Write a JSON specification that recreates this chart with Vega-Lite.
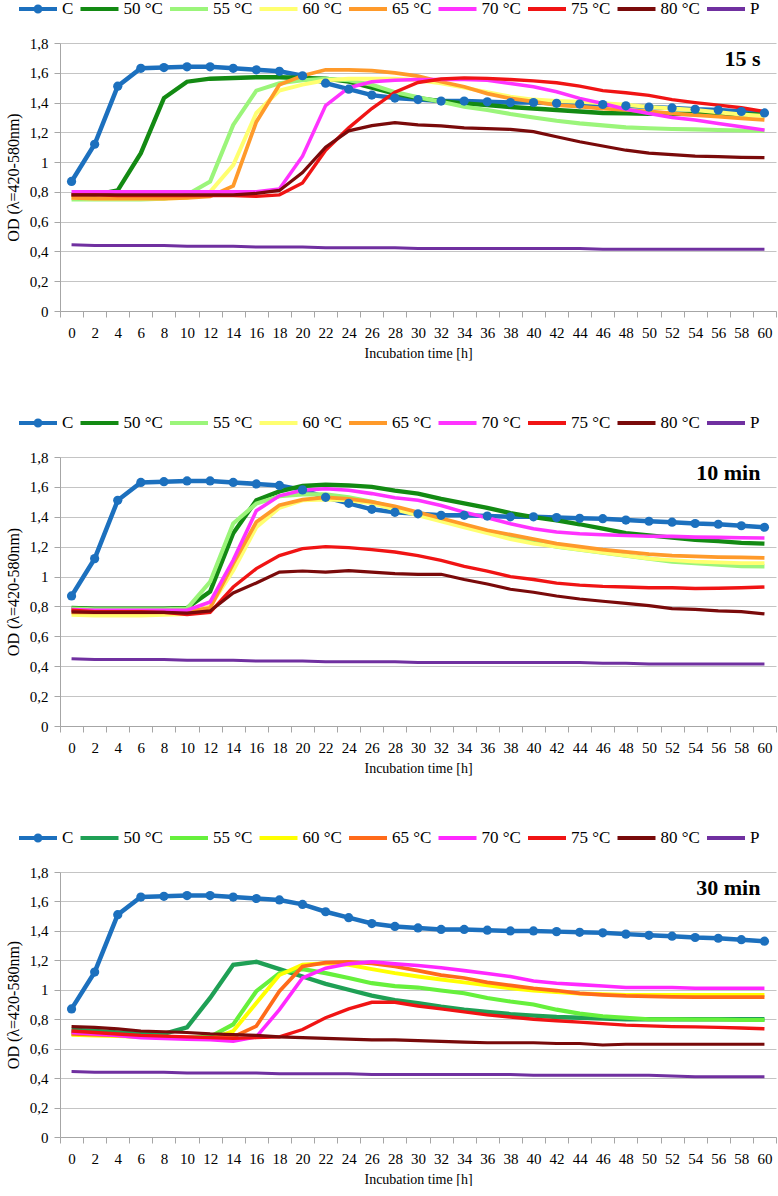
{
"$schema": "https://vega.github.io/schema/vega-lite/v6.json",
"padding": {"left": 5, "top": 0, "right": 0, "bottom": 0},
"spacing": 54,
"datasets": {"d": [
{"panel":"15 s","t":0,"C":0.87,"50 °C":0.78,"55 °C":0.75,"60 °C":0.76,"65 °C":0.76,"70 °C":0.80,"75 °C":0.78,"80 °C":0.78,"P":0.445},
{"panel":"15 s","t":2,"C":1.12,"50 °C":0.78,"55 °C":0.75,"60 °C":0.755,"65 °C":0.755,"70 °C":0.80,"75 °C":0.78,"80 °C":0.78,"P":0.44},
{"panel":"15 s","t":4,"C":1.51,"50 °C":0.81,"55 °C":0.75,"60 °C":0.755,"65 °C":0.755,"70 °C":0.80,"75 °C":0.775,"80 °C":0.78,"P":0.44},
{"panel":"15 s","t":6,"C":1.63,"50 °C":1.06,"55 °C":0.75,"60 °C":0.755,"65 °C":0.755,"70 °C":0.80,"75 °C":0.775,"80 °C":0.78,"P":0.44},
{"panel":"15 s","t":8,"C":1.635,"50 °C":1.43,"55 °C":0.755,"60 °C":0.755,"65 °C":0.755,"70 °C":0.80,"75 °C":0.775,"80 °C":0.78,"P":0.44},
{"panel":"15 s","t":10,"C":1.64,"50 °C":1.54,"55 °C":0.78,"60 °C":0.76,"65 °C":0.76,"70 °C":0.80,"75 °C":0.775,"80 °C":0.78,"P":0.435},
{"panel":"15 s","t":12,"C":1.64,"50 °C":1.56,"55 °C":0.87,"60 °C":0.80,"65 °C":0.77,"70 °C":0.80,"75 °C":0.775,"80 °C":0.78,"P":0.435},
{"panel":"15 s","t":14,"C":1.63,"50 °C":1.565,"55 °C":1.25,"60 °C":0.98,"65 °C":0.84,"70 °C":0.80,"75 °C":0.775,"80 °C":0.78,"P":0.435},
{"panel":"15 s","t":16,"C":1.62,"50 °C":1.57,"55 °C":1.48,"60 °C":1.33,"65 °C":1.27,"70 °C":0.80,"75 °C":0.77,"80 °C":0.79,"P":0.43},
{"panel":"15 s","t":18,"C":1.61,"50 °C":1.57,"55 °C":1.53,"60 °C":1.48,"65 °C":1.52,"70 °C":0.82,"75 °C":0.78,"80 °C":0.81,"P":0.43},
{"panel":"15 s","t":20,"C":1.58,"50 °C":1.565,"55 °C":1.55,"60 °C":1.52,"65 °C":1.58,"70 °C":1.04,"75 °C":0.86,"80 °C":0.93,"P":0.43},
{"panel":"15 s","t":22,"C":1.53,"50 °C":1.56,"55 °C":1.56,"60 °C":1.55,"65 °C":1.62,"70 °C":1.38,"75 °C":1.08,"80 °C":1.10,"P":0.425},
{"panel":"15 s","t":24,"C":1.49,"50 °C":1.54,"55 °C":1.55,"60 °C":1.56,"65 °C":1.62,"70 °C":1.50,"75 °C":1.23,"80 °C":1.21,"P":0.425},
{"panel":"15 s","t":26,"C":1.45,"50 °C":1.50,"55 °C":1.52,"60 °C":1.56,"65 °C":1.615,"70 °C":1.54,"75 °C":1.36,"80 °C":1.245,"P":0.425},
{"panel":"15 s","t":28,"C":1.43,"50 °C":1.46,"55 °C":1.47,"60 °C":1.56,"65 °C":1.60,"70 °C":1.55,"75 °C":1.47,"80 °C":1.265,"P":0.425},
{"panel":"15 s","t":30,"C":1.42,"50 °C":1.43,"55 °C":1.435,"60 °C":1.55,"65 °C":1.578,"70 °C":1.555,"75 °C":1.535,"80 °C":1.25,"P":0.42},
{"panel":"15 s","t":32,"C":1.41,"50 °C":1.41,"55 °C":1.406,"60 °C":1.53,"65 °C":1.54,"70 °C":1.555,"75 °C":1.558,"80 °C":1.243,"P":0.42},
{"panel":"15 s","t":34,"C":1.41,"50 °C":1.395,"55 °C":1.372,"60 °C":1.50,"65 °C":1.506,"70 °C":1.555,"75 °C":1.566,"80 °C":1.23,"P":0.42},
{"panel":"15 s","t":36,"C":1.405,"50 °C":1.383,"55 °C":1.35,"60 °C":1.47,"65 °C":1.46,"70 °C":1.55,"75 °C":1.562,"80 °C":1.225,"P":0.42},
{"panel":"15 s","t":38,"C":1.40,"50 °C":1.37,"55 °C":1.323,"60 °C":1.44,"65 °C":1.428,"70 °C":1.528,"75 °C":1.555,"80 °C":1.22,"P":0.42},
{"panel":"15 s","t":40,"C":1.40,"50 °C":1.36,"55 °C":1.30,"60 °C":1.42,"65 °C":1.406,"70 °C":1.506,"75 °C":1.546,"80 °C":1.205,"P":0.42},
{"panel":"15 s","t":42,"C":1.395,"50 °C":1.35,"55 °C":1.278,"60 °C":1.41,"65 °C":1.383,"70 °C":1.473,"75 °C":1.533,"80 °C":1.17,"P":0.42},
{"panel":"15 s","t":44,"C":1.39,"50 °C":1.34,"55 °C":1.26,"60 °C":1.405,"65 °C":1.372,"70 °C":1.428,"75 °C":1.51,"80 °C":1.137,"P":0.42},
{"panel":"15 s","t":46,"C":1.387,"50 °C":1.33,"55 °C":1.247,"60 °C":1.395,"65 °C":1.36,"70 °C":1.394,"75 °C":1.48,"80 °C":1.108,"P":0.415},
{"panel":"15 s","t":48,"C":1.378,"50 °C":1.327,"55 °C":1.233,"60 °C":1.385,"65 °C":1.35,"70 °C":1.355,"75 °C":1.466,"80 °C":1.08,"P":0.415},
{"panel":"15 s","t":50,"C":1.37,"50 °C":1.325,"55 °C":1.227,"60 °C":1.37,"65 °C":1.34,"70 °C":1.327,"75 °C":1.448,"80 °C":1.06,"P":0.415},
{"panel":"15 s","t":52,"C":1.364,"50 °C":1.325,"55 °C":1.222,"60 °C":1.36,"65 °C":1.327,"70 °C":1.30,"75 °C":1.42,"80 °C":1.05,"P":0.415},
{"panel":"15 s","t":54,"C":1.355,"50 °C":1.323,"55 °C":1.22,"60 °C":1.35,"65 °C":1.316,"70 °C":1.283,"75 °C":1.40,"80 °C":1.04,"P":0.415},
{"panel":"15 s","t":56,"C":1.35,"50 °C":1.32,"55 °C":1.216,"60 °C":1.335,"65 °C":1.305,"70 °C":1.26,"75 °C":1.383,"80 °C":1.037,"P":0.415},
{"panel":"15 s","t":58,"C":1.34,"50 °C":1.32,"55 °C":1.212,"60 °C":1.32,"65 °C":1.294,"70 °C":1.238,"75 °C":1.365,"80 °C":1.032,"P":0.415},
{"panel":"15 s","t":60,"C":1.33,"50 °C":1.32,"55 °C":1.21,"60 °C":1.31,"65 °C":1.283,"70 °C":1.215,"75 °C":1.34,"80 °C":1.03,"P":0.415},
{"panel":"10 min","t":0,"C":0.87,"50 °C":0.79,"55 °C":0.785,"60 °C":0.745,"65 °C":0.76,"70 °C":0.78,"75 °C":0.775,"80 °C":0.764,"P":0.45},
{"panel":"10 min","t":2,"C":1.12,"50 °C":0.785,"55 °C":0.78,"60 °C":0.74,"65 °C":0.76,"70 °C":0.775,"75 °C":0.765,"80 °C":0.76,"P":0.445},
{"panel":"10 min","t":4,"C":1.51,"50 °C":0.785,"55 °C":0.78,"60 °C":0.74,"65 °C":0.76,"70 °C":0.775,"75 °C":0.765,"80 °C":0.76,"P":0.445},
{"panel":"10 min","t":6,"C":1.63,"50 °C":0.785,"55 °C":0.78,"60 °C":0.74,"65 °C":0.76,"70 °C":0.775,"75 °C":0.765,"80 °C":0.76,"P":0.445},
{"panel":"10 min","t":8,"C":1.635,"50 °C":0.785,"55 °C":0.78,"60 °C":0.745,"65 °C":0.76,"70 °C":0.775,"75 °C":0.76,"80 °C":0.76,"P":0.445},
{"panel":"10 min","t":10,"C":1.64,"50 °C":0.79,"55 °C":0.785,"60 °C":0.75,"65 °C":0.765,"70 °C":0.775,"75 °C":0.746,"80 °C":0.755,"P":0.44},
{"panel":"10 min","t":12,"C":1.64,"50 °C":0.90,"55 °C":0.965,"60 °C":0.80,"65 °C":0.79,"70 °C":0.83,"75 °C":0.76,"80 °C":0.77,"P":0.44},
{"panel":"10 min","t":14,"C":1.63,"50 °C":1.29,"55 °C":1.355,"60 °C":1.04,"65 °C":1.087,"70 °C":1.11,"75 °C":0.93,"80 °C":0.89,"P":0.44},
{"panel":"10 min","t":16,"C":1.62,"50 °C":1.51,"55 °C":1.488,"60 °C":1.33,"65 °C":1.365,"70 °C":1.44,"75 °C":1.053,"80 °C":0.957,"P":0.435},
{"panel":"10 min","t":18,"C":1.61,"50 °C":1.57,"55 °C":1.537,"60 °C":1.46,"65 °C":1.477,"70 °C":1.54,"75 °C":1.14,"80 °C":1.03,"P":0.435},
{"panel":"10 min","t":20,"C":1.58,"50 °C":1.606,"55 °C":1.55,"60 °C":1.51,"65 °C":1.515,"70 °C":1.577,"75 °C":1.187,"80 °C":1.037,"P":0.435},
{"panel":"10 min","t":22,"C":1.53,"50 °C":1.615,"55 °C":1.55,"60 °C":1.515,"65 °C":1.53,"70 °C":1.588,"75 °C":1.20,"80 °C":1.03,"P":0.43},
{"panel":"10 min","t":24,"C":1.49,"50 °C":1.61,"55 °C":1.53,"60 °C":1.51,"65 °C":1.52,"70 °C":1.577,"75 °C":1.194,"80 °C":1.04,"P":0.43},
{"panel":"10 min","t":26,"C":1.45,"50 °C":1.60,"55 °C":1.50,"60 °C":1.49,"65 °C":1.50,"70 °C":1.555,"75 °C":1.18,"80 °C":1.03,"P":0.43},
{"panel":"10 min","t":28,"C":1.43,"50 °C":1.575,"55 °C":1.46,"60 °C":1.45,"65 °C":1.47,"70 °C":1.528,"75 °C":1.164,"80 °C":1.02,"P":0.43},
{"panel":"10 min","t":30,"C":1.42,"50 °C":1.555,"55 °C":1.42,"60 °C":1.41,"65 °C":1.43,"70 °C":1.51,"75 °C":1.14,"80 °C":1.015,"P":0.425},
{"panel":"10 min","t":32,"C":1.41,"50 °C":1.52,"55 °C":1.38,"60 °C":1.37,"65 °C":1.39,"70 °C":1.476,"75 °C":1.108,"80 °C":1.015,"P":0.425},
{"panel":"10 min","t":34,"C":1.41,"50 °C":1.49,"55 °C":1.34,"60 °C":1.33,"65 °C":1.35,"70 °C":1.43,"75 °C":1.068,"80 °C":0.98,"P":0.425},
{"panel":"10 min","t":36,"C":1.405,"50 °C":1.46,"55 °C":1.30,"60 °C":1.29,"65 °C":1.31,"70 °C":1.394,"75 °C":1.037,"80 °C":0.95,"P":0.425},
{"panel":"10 min","t":38,"C":1.40,"50 °C":1.425,"55 °C":1.26,"60 °C":1.25,"65 °C":1.28,"70 °C":1.354,"75 °C":1.00,"80 °C":0.915,"P":0.425},
{"panel":"10 min","t":40,"C":1.40,"50 °C":1.398,"55 °C":1.23,"60 °C":1.22,"65 °C":1.25,"70 °C":1.32,"75 °C":0.98,"80 °C":0.895,"P":0.425},
{"panel":"10 min","t":42,"C":1.395,"50 °C":1.376,"55 °C":1.20,"60 °C":1.20,"65 °C":1.22,"70 °C":1.298,"75 °C":0.956,"80 °C":0.87,"P":0.425},
{"panel":"10 min","t":44,"C":1.39,"50 °C":1.35,"55 °C":1.18,"60 °C":1.18,"65 °C":1.20,"70 °C":1.287,"75 °C":0.943,"80 °C":0.85,"P":0.425},
{"panel":"10 min","t":46,"C":1.387,"50 °C":1.32,"55 °C":1.16,"60 °C":1.16,"65 °C":1.18,"70 °C":1.28,"75 °C":0.934,"80 °C":0.835,"P":0.42},
{"panel":"10 min","t":48,"C":1.378,"50 °C":1.29,"55 °C":1.14,"60 °C":1.14,"65 °C":1.165,"70 °C":1.275,"75 °C":0.93,"80 °C":0.82,"P":0.42},
{"panel":"10 min","t":50,"C":1.37,"50 °C":1.275,"55 °C":1.12,"60 °C":1.12,"65 °C":1.15,"70 °C":1.27,"75 °C":0.925,"80 °C":0.805,"P":0.415},
{"panel":"10 min","t":52,"C":1.364,"50 °C":1.26,"55 °C":1.10,"60 °C":1.11,"65 °C":1.14,"70 °C":1.269,"75 °C":0.925,"80 °C":0.785,"P":0.415},
{"panel":"10 min","t":54,"C":1.355,"50 °C":1.246,"55 °C":1.09,"60 °C":1.10,"65 °C":1.135,"70 °C":1.264,"75 °C":0.92,"80 °C":0.78,"P":0.415},
{"panel":"10 min","t":56,"C":1.35,"50 °C":1.237,"55 °C":1.08,"60 °C":1.095,"65 °C":1.13,"70 °C":1.262,"75 °C":0.922,"80 °C":0.77,"P":0.415},
{"panel":"10 min","t":58,"C":1.34,"50 °C":1.226,"55 °C":1.07,"60 °C":1.09,"65 °C":1.128,"70 °C":1.26,"75 °C":0.925,"80 °C":0.765,"P":0.415},
{"panel":"10 min","t":60,"C":1.33,"50 °C":1.22,"55 °C":1.068,"60 °C":1.09,"65 °C":1.125,"70 °C":1.258,"75 °C":0.93,"80 °C":0.75,"P":0.415},
{"panel":"30 min","t":0,"C":0.87,"50 °C":0.73,"55 °C":0.70,"60 °C":0.695,"65 °C":0.70,"70 °C":0.71,"75 °C":0.72,"80 °C":0.75,"P":0.445},
{"panel":"30 min","t":2,"C":1.12,"50 °C":0.72,"55 °C":0.70,"60 °C":0.69,"65 °C":0.695,"70 °C":0.70,"75 °C":0.71,"80 °C":0.745,"P":0.44},
{"panel":"30 min","t":4,"C":1.51,"50 °C":0.71,"55 °C":0.69,"60 °C":0.685,"65 °C":0.69,"70 °C":0.69,"75 °C":0.70,"80 °C":0.735,"P":0.44},
{"panel":"30 min","t":6,"C":1.63,"50 °C":0.70,"55 °C":0.68,"60 °C":0.68,"65 °C":0.685,"70 °C":0.675,"75 °C":0.69,"80 °C":0.72,"P":0.44},
{"panel":"30 min","t":8,"C":1.635,"50 °C":0.70,"55 °C":0.68,"60 °C":0.675,"65 °C":0.68,"70 °C":0.67,"75 °C":0.685,"80 °C":0.715,"P":0.44},
{"panel":"30 min","t":10,"C":1.64,"50 °C":0.745,"55 °C":0.675,"60 °C":0.67,"65 °C":0.675,"70 °C":0.665,"75 °C":0.68,"80 °C":0.71,"P":0.435},
{"panel":"30 min","t":12,"C":1.64,"50 °C":0.945,"55 °C":0.68,"60 °C":0.665,"65 °C":0.67,"70 °C":0.66,"75 °C":0.675,"80 °C":0.70,"P":0.435},
{"panel":"30 min","t":14,"C":1.63,"50 °C":1.17,"55 °C":0.765,"60 °C":0.72,"65 °C":0.68,"70 °C":0.65,"75 °C":0.67,"80 °C":0.695,"P":0.435},
{"panel":"30 min","t":16,"C":1.62,"50 °C":1.19,"55 °C":0.99,"60 °C":0.91,"65 °C":0.753,"70 °C":0.68,"75 °C":0.675,"80 °C":0.69,"P":0.435},
{"panel":"30 min","t":18,"C":1.61,"50 °C":1.14,"55 °C":1.113,"60 °C":1.10,"65 °C":0.99,"70 °C":0.865,"75 °C":0.68,"80 °C":0.68,"P":0.43},
{"panel":"30 min","t":20,"C":1.58,"50 °C":1.09,"55 °C":1.14,"60 °C":1.17,"65 °C":1.158,"70 °C":1.08,"75 °C":0.73,"80 °C":0.675,"P":0.43},
{"panel":"30 min","t":22,"C":1.53,"50 °C":1.04,"55 °C":1.113,"60 °C":1.18,"65 °C":1.185,"70 °C":1.147,"75 °C":0.81,"80 °C":0.67,"P":0.43},
{"panel":"30 min","t":24,"C":1.49,"50 °C":1.0,"55 °C":1.08,"60 °C":1.17,"65 °C":1.19,"70 °C":1.176,"75 °C":0.87,"80 °C":0.665,"P":0.43},
{"panel":"30 min","t":26,"C":1.45,"50 °C":0.96,"55 °C":1.045,"60 °C":1.14,"65 °C":1.18,"70 °C":1.19,"75 °C":0.915,"80 °C":0.66,"P":0.425},
{"panel":"30 min","t":28,"C":1.43,"50 °C":0.93,"55 °C":1.025,"60 °C":1.113,"65 °C":1.158,"70 °C":1.176,"75 °C":0.915,"80 °C":0.66,"P":0.425},
{"panel":"30 min","t":30,"C":1.42,"50 °C":0.91,"55 °C":1.015,"60 °C":1.09,"65 °C":1.13,"70 °C":1.165,"75 °C":0.89,"80 °C":0.655,"P":0.425},
{"panel":"30 min","t":32,"C":1.41,"50 °C":0.885,"55 °C":0.995,"60 °C":1.07,"65 °C":1.10,"70 °C":1.15,"75 °C":0.87,"80 °C":0.65,"P":0.425},
{"panel":"30 min","t":34,"C":1.41,"50 °C":0.865,"55 °C":0.977,"60 °C":1.05,"65 °C":1.08,"70 °C":1.13,"75 °C":0.85,"80 °C":0.645,"P":0.425},
{"panel":"30 min","t":36,"C":1.405,"50 °C":0.85,"55 °C":0.944,"60 °C":1.03,"65 °C":1.05,"70 °C":1.11,"75 °C":0.83,"80 °C":0.64,"P":0.425},
{"panel":"30 min","t":38,"C":1.40,"50 °C":0.835,"55 °C":0.92,"60 °C":1.01,"65 °C":1.03,"70 °C":1.09,"75 °C":0.815,"80 °C":0.64,"P":0.425},
{"panel":"30 min","t":40,"C":1.40,"50 °C":0.825,"55 °C":0.90,"60 °C":0.995,"65 °C":1.01,"70 °C":1.06,"75 °C":0.80,"80 °C":0.64,"P":0.42},
{"panel":"30 min","t":42,"C":1.395,"50 °C":0.815,"55 °C":0.865,"60 °C":0.985,"65 °C":0.995,"70 °C":1.045,"75 °C":0.79,"80 °C":0.635,"P":0.42},
{"panel":"30 min","t":44,"C":1.39,"50 °C":0.81,"55 °C":0.838,"60 °C":0.975,"65 °C":0.975,"70 °C":1.035,"75 °C":0.78,"80 °C":0.635,"P":0.42},
{"panel":"30 min","t":46,"C":1.387,"50 °C":0.805,"55 °C":0.82,"60 °C":0.97,"65 °C":0.965,"70 °C":1.025,"75 °C":0.77,"80 °C":0.625,"P":0.42},
{"panel":"30 min","t":48,"C":1.378,"50 °C":0.80,"55 °C":0.81,"60 °C":0.965,"65 °C":0.958,"70 °C":1.015,"75 °C":0.76,"80 °C":0.63,"P":0.42},
{"panel":"30 min","t":50,"C":1.37,"50 °C":0.80,"55 °C":0.80,"60 °C":0.965,"65 °C":0.955,"70 °C":1.015,"75 °C":0.755,"80 °C":0.63,"P":0.42},
{"panel":"30 min","t":52,"C":1.364,"50 °C":0.80,"55 °C":0.80,"60 °C":0.965,"65 °C":0.952,"70 °C":1.015,"75 °C":0.75,"80 °C":0.63,"P":0.415},
{"panel":"30 min","t":54,"C":1.355,"50 °C":0.80,"55 °C":0.798,"60 °C":0.965,"65 °C":0.95,"70 °C":1.01,"75 °C":0.748,"80 °C":0.63,"P":0.41},
{"panel":"30 min","t":56,"C":1.35,"50 °C":0.80,"55 °C":0.798,"60 °C":0.965,"65 °C":0.95,"70 °C":1.01,"75 °C":0.745,"80 °C":0.63,"P":0.41},
{"panel":"30 min","t":58,"C":1.34,"50 °C":0.80,"55 °C":0.795,"60 °C":0.965,"65 °C":0.95,"70 °C":1.01,"75 °C":0.74,"80 °C":0.63,"P":0.41},
{"panel":"30 min","t":60,"C":1.33,"50 °C":0.80,"55 °C":0.795,"60 °C":0.965,"65 °C":0.95,"70 °C":1.01,"75 °C":0.735,"80 °C":0.63,"P":0.41}
]},
"data": {"name": "d"},
"resolve": {"scale": {"color": "independent"}, "legend": {"color": "independent"}},
"vconcat": [
{
"width": 716, "height": 268,
"transform": [{"filter": "datum.panel === '15 s'"}, {"fold": ["C","50 °C","55 °C","60 °C","65 °C","70 °C","75 °C","80 °C","P"], "as": ["series","od"]}],
"encoding": {
 "x": {"field": "t", "type": "ordinal", "bandPosition": 0.5, "scale": {"type": "band", "paddingInner": 0, "paddingOuter": 0}, "axis": {"title": "Incubation time [h]", "labelFont": "Liberation Serif", "titleFont": "Liberation Serif", "labelFontSize": 15, "titleFontSize": 14, "labelAngle": 0, "tickBand": "extent", "grid": false, "tickSize": 6, "labelPadding": 8, "titlePadding": 6}},
 "y": {"field": "od", "type": "quantitative", "scale": {"domain": [0, 1.8], "nice": false}, "axis": {"title": "OD (λ=420-580nm)", "labelFont": "Liberation Serif", "titleFont": "Liberation Serif", "labelFontSize": 15, "titleFontSize": 16, "values": [0,0.2,0.4,0.6,0.8,1,1.2,1.4,1.6,1.8], "labelExpr": "replace(format(datum.value, '.2~f'), '.', ',')", "grid": true, "tickSize": 6, "labelPadding": 6, "titlePadding": 8}}
},
"layer": [
 {"mark": {"type": "line"},
  "encoding": {
   "color": {"field": "series", "type": "nominal", "scale": {"domain": ["C","50 °C","55 °C","60 °C","65 °C","70 °C","75 °C","80 °C","P"], "range": ["#1C70BE","#138A13","#9BF57A","#FFFF70","#FF9A2A","#FF33FF","#F01414","#7A0A0A","#7030A0"]},
     "legend": {"orient": "none", "legendX": -43, "legendY": -43, "clipHeight": 18, "direction": "horizontal", "title": null, "symbolType": "stroke", "symbolSize": 1444, "symbolStrokeWidth": 4, "labelFont": "Liberation Serif", "labelFontSize": 17, "labelOffset": 3, "columnPadding": 4.5,
       "encode": {"symbols": {"update": {"shape": {"signal": "datum.value === 'C' ? 'M-1,0L1,0M-0.13,0A0.13,0.13,0,1,1,0.13,0A0.13,0.13,0,1,1,-0.13,0' : 'stroke'"}}}}}},
   "strokeWidth": {"field": "series", "type": "ordinal", "scale": {"domain": ["C","50 °C","55 °C","60 °C","65 °C","70 °C","75 °C","80 °C","P"], "range": [4.5,3,3,3,3,3,3,3,4.5]}, "legend": null}
  }},
 {"transform": [{"filter": "datum.series === 'C'"}], "mark": {"type": "point", "filled": true, "size": 85, "opacity": 1, "color": "#1C70BE"}},
 {"transform": [{"filter": "datum.series === 'C' && datum.t === 60"}], "mark": {"type": "text", "align": "right", "baseline": "middle", "fontSize": 22, "fontWeight": "bold", "font": "Liberation Serif", "dx": -4},
  "encoding": {"x": {"datum": 60, "type": "ordinal", "bandPosition": 0.5}, "y": {"datum": 1.69, "type": "quantitative"}, "text": {"field": "panel"}}}
]
},
{
"width": 716, "height": 269,
"transform": [{"filter": "datum.panel === '10 min'"}, {"fold": ["C","50 °C","55 °C","60 °C","65 °C","70 °C","75 °C","80 °C","P"], "as": ["series","od"]}],
"encoding": {
 "x": {"field": "t", "type": "ordinal", "bandPosition": 0.5, "scale": {"type": "band", "paddingInner": 0, "paddingOuter": 0}, "axis": {"title": "Incubation time [h]", "labelFont": "Liberation Serif", "titleFont": "Liberation Serif", "labelFontSize": 15, "titleFontSize": 14, "labelAngle": 0, "tickBand": "extent", "grid": false, "tickSize": 6, "labelPadding": 8, "titlePadding": 6}},
 "y": {"field": "od", "type": "quantitative", "scale": {"domain": [0, 1.8], "nice": false}, "axis": {"title": "OD (λ=420-580nm)", "labelFont": "Liberation Serif", "titleFont": "Liberation Serif", "labelFontSize": 15, "titleFontSize": 16, "values": [0,0.2,0.4,0.6,0.8,1,1.2,1.4,1.6,1.8], "labelExpr": "replace(format(datum.value, '.2~f'), '.', ',')", "grid": true, "tickSize": 6, "labelPadding": 6, "titlePadding": 8}}
},
"layer": [
 {"mark": {"type": "line"},
  "encoding": {
   "color": {"field": "series", "type": "nominal", "scale": {"domain": ["C","50 °C","55 °C","60 °C","65 °C","70 °C","75 °C","80 °C","P"], "range": ["#1C70BE","#138A13","#9BF57A","#FFFF70","#FF9A2A","#FF33FF","#F01414","#7A0A0A","#7030A0"]},
     "legend": {"orient": "none", "legendX": -43, "legendY": -43, "clipHeight": 18, "direction": "horizontal", "title": null, "symbolType": "stroke", "symbolSize": 1444, "symbolStrokeWidth": 4, "labelFont": "Liberation Serif", "labelFontSize": 17, "labelOffset": 3, "columnPadding": 4.5,
       "encode": {"symbols": {"update": {"shape": {"signal": "datum.value === 'C' ? 'M-1,0L1,0M-0.13,0A0.13,0.13,0,1,1,0.13,0A0.13,0.13,0,1,1,-0.13,0' : 'stroke'"}}}}}},
   "strokeWidth": {"field": "series", "type": "ordinal", "scale": {"domain": ["C","50 °C","55 °C","60 °C","65 °C","70 °C","75 °C","80 °C","P"], "range": [4.5,3,3,3,3,3,3,3,4.5]}, "legend": null}
  }},
 {"transform": [{"filter": "datum.series === 'C'"}], "mark": {"type": "point", "filled": true, "size": 85, "opacity": 1, "color": "#1C70BE"}},
 {"transform": [{"filter": "datum.series === 'C' && datum.t === 60"}], "mark": {"type": "text", "align": "right", "baseline": "middle", "fontSize": 22, "fontWeight": "bold", "font": "Liberation Serif", "dx": -4},
  "encoding": {"x": {"datum": 60, "type": "ordinal", "bandPosition": 0.5}, "y": {"datum": 1.69, "type": "quantitative"}, "text": {"field": "panel"}}}
]
},
{
"width": 716, "height": 265,
"transform": [{"filter": "datum.panel === '30 min'"}, {"fold": ["C","50 °C","55 °C","60 °C","65 °C","70 °C","75 °C","80 °C","P"], "as": ["series","od"]}],
"encoding": {
 "x": {"field": "t", "type": "ordinal", "bandPosition": 0.5, "scale": {"type": "band", "paddingInner": 0, "paddingOuter": 0}, "axis": {"title": "Incubation time [h]", "labelFont": "Liberation Serif", "titleFont": "Liberation Serif", "labelFontSize": 15, "titleFontSize": 14, "labelAngle": 0, "tickBand": "extent", "grid": false, "tickSize": 6, "labelPadding": 8, "titlePadding": 6}},
 "y": {"field": "od", "type": "quantitative", "scale": {"domain": [0, 1.8], "nice": false}, "axis": {"title": "OD (λ=420-580nm)", "labelFont": "Liberation Serif", "titleFont": "Liberation Serif", "labelFontSize": 15, "titleFontSize": 16, "values": [0,0.2,0.4,0.6,0.8,1,1.2,1.4,1.6,1.8], "labelExpr": "replace(format(datum.value, '.2~f'), '.', ',')", "grid": true, "tickSize": 6, "labelPadding": 6, "titlePadding": 8}}
},
"layer": [
 {"mark": {"type": "line"},
  "encoding": {
   "color": {"field": "series", "type": "nominal", "scale": {"domain": ["C","50 °C","55 °C","60 °C","65 °C","70 °C","75 °C","80 °C","P"], "range": ["#1C70BE","#1FA055","#66F03C","#FFFF00","#FF6A1A","#FF28FF","#F01414","#780A0A","#7030A0"]},
     "legend": {"orient": "none", "legendX": -43, "legendY": -43, "clipHeight": 18, "direction": "horizontal", "title": null, "symbolType": "stroke", "symbolSize": 1444, "symbolStrokeWidth": 4, "labelFont": "Liberation Serif", "labelFontSize": 17, "labelOffset": 3, "columnPadding": 4.5,
       "encode": {"symbols": {"update": {"shape": {"signal": "datum.value === 'C' ? 'M-1,0L1,0M-0.13,0A0.13,0.13,0,1,1,0.13,0A0.13,0.13,0,1,1,-0.13,0' : 'stroke'"}}}}}},
   "strokeWidth": {"field": "series", "type": "ordinal", "scale": {"domain": ["C","50 °C","55 °C","60 °C","65 °C","70 °C","75 °C","80 °C","P"], "range": [4.5,3,3,3,3,3,3,3,4.5]}, "legend": null}
  }},
 {"transform": [{"filter": "datum.series === 'C'"}], "mark": {"type": "point", "filled": true, "size": 85, "opacity": 1, "color": "#1C70BE"}},
 {"transform": [{"filter": "datum.series === 'C' && datum.t === 60"}], "mark": {"type": "text", "align": "right", "baseline": "middle", "fontSize": 22, "fontWeight": "bold", "font": "Liberation Serif", "dx": -4},
  "encoding": {"x": {"datum": 60, "type": "ordinal", "bandPosition": 0.5}, "y": {"datum": 1.69, "type": "quantitative"}, "text": {"field": "panel"}}}
]
}
],
"config": {
 "font": "Liberation Serif",
 "view": {"stroke": null},
 "axis": {"labelFont": "Liberation Serif", "titleFont": "Liberation Serif", "labelColor": "#000000", "titleColor": "#000000", "titleFontWeight": "normal", "domainColor": "#A6A6A6", "tickColor": "#A6A6A6", "gridColor": "#C4C4C4"},
 "legend": {"labelFont": "Liberation Serif", "labelColor": "#000000"}
}
}
